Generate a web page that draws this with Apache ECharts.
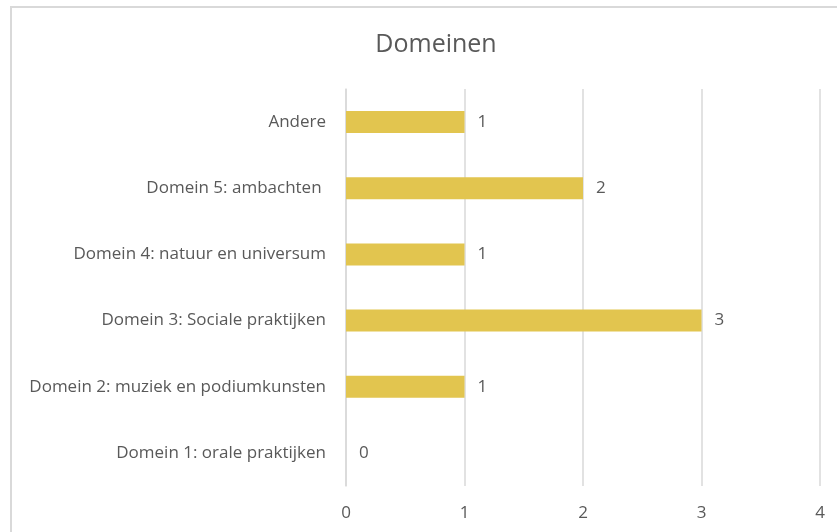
<!DOCTYPE html>
<html>
<head>
<meta charset="utf-8">
<script src="https://cdn.jsdelivr.net/npm/echarts@6/dist/echarts.min.js"></script>
<style>
  html, body { margin: 0; padding: 0; background: #fff; }
  #chart { width: 837px; height: 532px; }
</style>
</head>
<body>
<div id="chart"></div>
<script>
// bottom to top, as in the picture
const categories = [
  'Domein 1: orale praktijken',
  'Domein 2: muziek en podiumkunsten',
  'Domein 3: Sociale praktijken',
  'Domein 4: natuur en universum',
  'Domein 5: ambachten ',
  'Andere'
]
const counts = [0, 1, 3, 1, 2, 1]

const TEXT = '#595959'
const GRID = '#d9d9d9'
const FONT = '"Open Sans", "Noto Sans", sans-serif'

const chart = echarts.init(document.getElementById('chart'))

chart.setOption({
  animation: false,
  textStyle: { fontFamily: FONT },
  graphic: [
    {
      type: 'rect',
      shape: { x: 11, y: 7, width: 900, height: 600 },
      style: { fill: 'none', stroke: GRID, lineWidth: 2 },
      silent: true
    }
  ],
  title: {
    text: 'Domeinen',
    left: 431,
    textAlign: 'center',
    top: 27,
    textStyle: { fontFamily: FONT, fontSize: 25, fontWeight: 'normal', color: TEXT }
  },
  grid: { left: 346, right: 17, top: 89, bottom: 46 },
  xAxis: {
    type: 'value',
    min: 0,
    max: 4,
    interval: 1,
    axisLine: { show: false },
    axisTick: { show: false },
    axisLabel: { color: TEXT, fontSize: 17, margin: 19 },
    splitLine: { lineStyle: { color: GRID, width: 1.5 } }
  },
  yAxis: {
    type: 'category',
    data: categories,
    axisLine: { show: true, lineStyle: { color: GRID, width: 1.5 } },
    axisTick: { show: false },
    axisLabel: { color: TEXT, fontSize: 17, margin: 20 }
  },
  series: [
    {
      type: 'bar',
      data: counts,
      barWidth: 22,
      itemStyle: { color: '#e2c54f' },
      label: {
        show: true,
        position: 'right',
        distance: 13,
        color: TEXT,
        fontSize: 17
      }
    }
  ]
})
</script>
</body>
</html>
